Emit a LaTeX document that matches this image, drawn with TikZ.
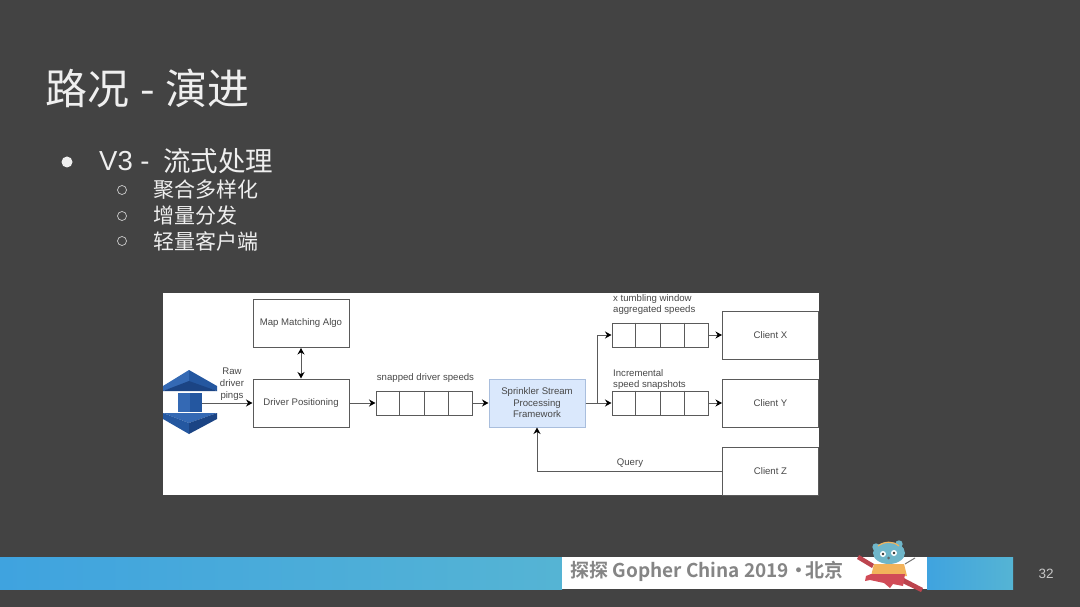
\documentclass[tikz,border=0pt]{standalone}
\usepackage{fontspec}
\usepackage{tikz}
\usetikzlibrary{arrows.meta, calc}
\setmainfont{Liberation Sans}
\newfontfamily\cjkfont{Noto Sans CJK SC}
\newfontfamily\bannerfont{Noto Sans CJK SC}[BoldFont={Noto Sans CJK SC Bold}]
\definecolor{slidebg}{HTML}{434343}
\definecolor{slidetext}{HTML}{EFEFEF}
\definecolor{boxline}{HTML}{5A5A5A}
\definecolor{boxtext}{HTML}{484848}
\definecolor{sprinklerfill}{HTML}{DAE8FC}
\definecolor{sprinklerline}{HTML}{A9BEDD}
\definecolor{bardark}{HTML}{3FA3DF}
\definecolor{barlight}{HTML}{55B4D4}
\definecolor{awsdark}{HTML}{1B4484}
\definecolor{awsmid}{HTML}{2457A0}
\definecolor{awslight}{HTML}{3469B4}
\definecolor{gopherblue}{HTML}{6FB6C9}
\definecolor{gopherorange}{HTML}{F2B35B}
\definecolor{gopherred}{HTML}{D14B57}
\tikzset{
  boxnode/.style={draw=boxline, line width=1pt, fill=white, minimum width=96pt, minimum height=48pt,
    inner sep=0pt, text=boxtext, font=\fontsize{9.6}{11.5}\selectfont, align=center},
  queuenode/.style={draw=boxline, line width=1pt, fill=white, minimum width=96pt, minimum height=24pt, inner sep=0pt},
  labelnode/.style={text=boxtext, font=\fontsize{9.6}{11.7}\selectfont, inner sep=0pt},
  flow/.style={draw=boxline, line width=1pt, -{Stealth[length=6.5pt, width=7pt, color=black]}},
  titlenode/.style={text=slidetext, anchor=west, inner sep=0pt},
  itemnode/.style={text=slidetext, anchor=west, inner sep=0pt, font=\cjkfont\fontsize{21}{24}\selectfont}
}
\begin{document}
\begin{tikzpicture}[x=1pt, y=-1pt, >=Stealth]
  \useasboundingbox (0,0) rectangle (1080,607);
  \fill[slidebg] (0,0) rectangle (1080,607);
  % Title and bullets
  \node[titlenode, font=\cjkfont\fontsize{42}{44}\selectfont] (title) at (45,88) {路况\hspace{11pt}-\hspace{11pt}演进};
  \fill[slidetext] (67,162) circle (5.5);
  \node[titlenode, font=\fontsize{27.5}{30}\selectfont] (vthree) at (99,161) {V3 -};
  \node[titlenode, font=\cjkfont\fontsize{27.5}{30}\selectfont] (stream) at (163,161) {流式处理};
  \foreach \name/\ypos/\txt in {agg/190/聚合多样化, inc/216/增量分发, thin/241/轻量客户端} {
    \draw[slidetext!80!slidebg, line width=0.7pt] (122,\ypos) circle (4.5);
    \node[itemnode] (\name) at (153,\ypos) {\txt};
  }
  % Diagram panel
  \fill[white] (163,293) rectangle (819,495);
  \node[boxnode] (map) at (301,323.5) {Map Matching Algo};
  \node[boxnode] (driver) at (301,403) {Driver Positioning};
  \node[queuenode] (snapped) at (424,403) {};
  \node[boxnode, fill=sprinklerfill, draw=sprinklerline] (sprinkler) at (537,403) {Sprinkler Stream\\Processing\\Framework};
  \node[queuenode] (tumbling) at (660,335) {};
  \node[queuenode] (incremental) at (660,403) {};
  \node[boxnode] (clientx) at (770.5,335) {Client X};
  \node[boxnode] (clienty) at (770.5,403) {Client Y};
  \node[boxnode] (clientz) at (770.5,471) {Client Z};
  % Queue cells
  \foreach \q in {snapped, tumbling, incremental} {
    \foreach \i in {1,2,3} {
      \draw[boxline, line width=1pt] ($(\q.north west)!\i/4!(\q.north east)$) -- ($(\q.south west)!\i/4!(\q.south east)$);
    }
  }
  % Kinesis icon
  \fill[awslight] (163,386) -- (189,370) -- (189,383) -- (163,391) -- cycle;
  \fill[awsmid] (217,386) -- (189,370) -- (189,383) -- (217,391) -- cycle;
  \fill[awsdark] (163,391) -- (189,381) -- (217,391) -- cycle;
  \fill[awslight] (178,393) rectangle (190,412);
  \fill[awsmid] (190,393) rectangle (202,412);
  \fill[awslight] (163,413) -- (217,413) -- (189,423) -- cycle;
  \fill[awsmid] (163,413) -- (189,423) -- (189,434) -- (163,419) -- cycle;
  \fill[awsdark] (217,413) -- (189,423) -- (189,434) -- (217,419) -- cycle;
  \coordinate (kinesis) at (202,403);
  % Connectors
  \draw[flow] (kinesis) -- (driver.west);
  \draw[flow, {Stealth[length=6.5pt, width=7pt, color=black]}-{Stealth[length=6.5pt, width=7pt, color=black]}] (map.south) -- (driver.north);
  \draw[flow] (driver.east) -- (snapped.west);
  \draw[flow] (snapped.east) -- (sprinkler.west);
  \draw[flow] (sprinkler.east) -- (incremental.west);
  \draw[flow] (sprinkler.east) -- ++(12,0) |- (tumbling.west);
  \draw[flow] (tumbling.east) -- (clientx.west);
  \draw[flow] (incremental.east) -- (clienty.west);
  \draw[flow] (clientz.west) -| (sprinkler.south);
  % Labels
  \node[labelnode, align=center] (raw) at (232,384) {Raw\\driver\\pings};
  \node[labelnode] (snappedlabel) at (425.5,378.5) {snapped driver speeds};
  \node[labelnode, anchor=west, align=left] (tumblinglabel) at (613,304.5) {x tumbling window\\aggregated speeds};
  \node[labelnode, anchor=west, align=left] (incrementallabel) at (613,379.5) {Incremental\\speed snapshots};
  \node[labelnode] (query) at (630,463.5) {Query};
  % Footer bar
  \shade[left color=bardark, right color=barlight] (0,557) rectangle (562,589);
  \shade[left color=bardark, right color=barlight] (927,557) rectangle (1013,589);
  \fill[white] (562,557) rectangle (927,589);
  \node[anchor=west, inner sep=0pt, text=black!48, font=\bannerfont\bfseries\fontsize{19}{22}\selectfont] (banner) at (570,571) {探探 Gopher China 2019·\hspace{-3pt}北京};
  \node[text=white!70!slidebg, inner sep=0pt, font=\fontsize{13.5}{16}\selectfont] (pagenum) at (1046,574) {32};
  % Mascot
  \fill[gopherred!90!black] (857,559) -- (859,555) -- (874,564) -- (872,568) -- cycle;
  \fill[gopherred!90!black] (900,576) -- (923,588) -- (921,592) -- (898,581) -- cycle;
  \draw[black!55, line width=1pt] (905,564) -- (915,558);
  \fill[gopherorange] (874,564) -- (904,564) -- (907,576) -- (871,576) -- cycle;
  \fill[gopherred] (871,574) -- (905,574) -- (903,586) -- (893,584) -- (890,588) -- (884,583) -- (870,580) -- (865,581) -- (866,576) -- cycle;
  \fill[gopherblue] (876,547) circle (3.7) (899,544) circle (3.7);
  \fill[gopherblue] (889,553) ellipse (16 and 11);
  \draw[gopherorange, line width=1.2pt] (878,546) .. controls (885,541) and (893,541) .. (899,546);
  \fill[white] (883,554) circle (3) (894,553) circle (3);
  \fill[black!80] (883,554) circle (1.4) (894,553) circle (1.4);
  \fill[black!60] (888.5,558) circle (1.5);
\end{tikzpicture}
\end{document}
